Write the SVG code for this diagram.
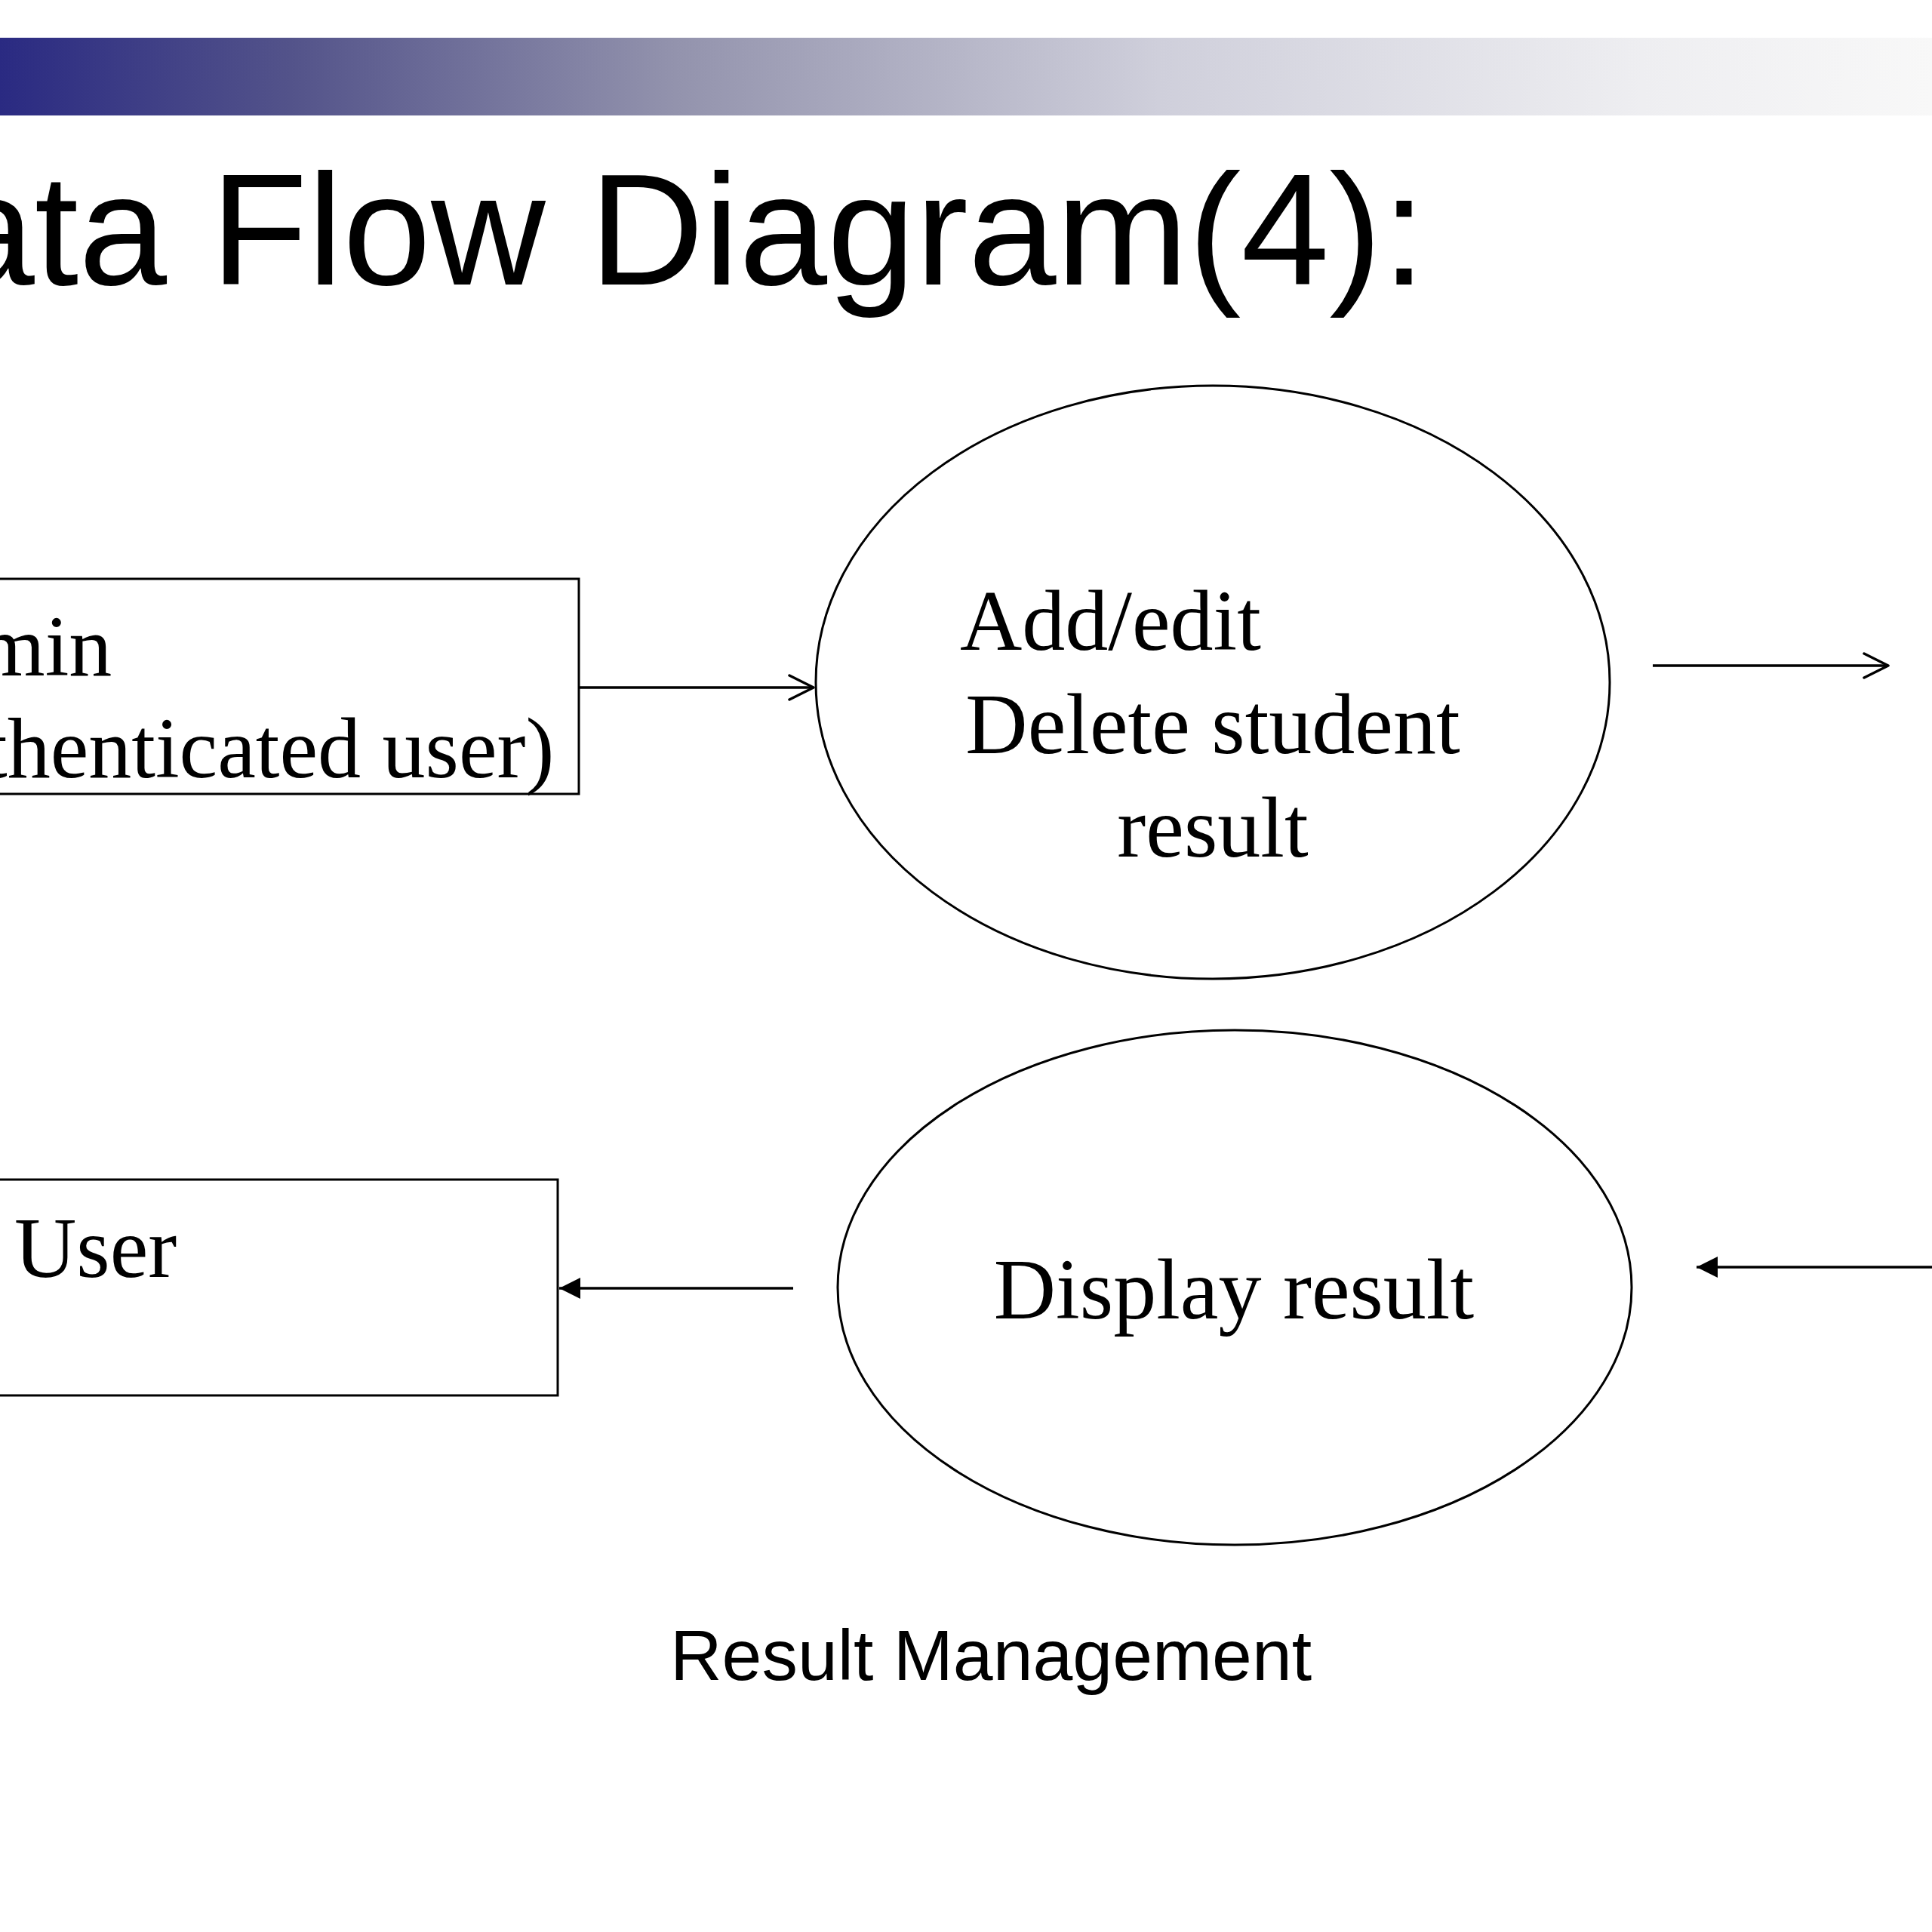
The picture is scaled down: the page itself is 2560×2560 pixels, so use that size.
<svg xmlns="http://www.w3.org/2000/svg" width="2560" height="2560" viewBox="0 0 2560 2560">
  <style>
    .shape { fill: #ffffff; stroke: #000000; stroke-width: 3; }
    .conn { fill: none; stroke: #000000; stroke-width: 3.5; }
    .serif { font-family: "Liberation Serif", "Times New Roman", serif; font-size: 114px; fill: #000000; }
    .sans { font-family: "Liberation Sans", Arial, sans-serif; fill: #000000; }
  </style>
  <defs>
    <linearGradient id="bar" x1="0" y1="0" x2="1" y2="0">
      <stop offset="0" stop-color="#2a2a82"/>
      <stop offset="0.15" stop-color="#53538a"/>
      <stop offset="0.35" stop-color="#9393ad"/>
      <stop offset="0.6" stop-color="#cfcfdb"/>
      <stop offset="0.85" stop-color="#eeeef1"/>
      <stop offset="1" stop-color="#f8f8f8"/>
    </linearGradient>
    <marker id="open" viewBox="0 0 36 36" refX="34" refY="18" markerWidth="36" markerHeight="36" markerUnits="userSpaceOnUse" orient="auto">
      <path d="M2,2 L34,18 L2,34" fill="none" stroke="#000000" stroke-width="3.5" stroke-linecap="round" stroke-linejoin="round"/>
    </marker>
    <marker id="solid" viewBox="0 0 28 28" refX="28" refY="14" markerWidth="28" markerHeight="28" markerUnits="userSpaceOnUse" orient="auto">
      <path d="M0,0 L28,14 L0,28 Z" fill="#000000"/>
    </marker>
  </defs>

  <rect x="0" y="0" width="2560" height="2560" fill="#ffffff"/>
  <rect id="header-bar" x="0" y="50" width="2560" height="103" fill="url(#bar)"/>
  <text id="title" class="sans" x="-71" y="377" font-size="210">ata Flow Diagram(4):</text>

  <g id="admin">
    <rect class="shape" x="-10" y="767" width="777" height="285"/>
    <text class="serif" x="-29" y="895">min</text>
    <text class="serif" x="-22" y="1030">thenticated user)</text>
  </g>

  <g id="add-edit">
    <ellipse class="shape" cx="1607" cy="904" rx="526" ry="393"/>
    <text class="serif" x="1272" y="861">Add/edit</text>
    <text class="serif" x="1607" y="998" text-anchor="middle">Delete student</text>
    <text class="serif" x="1607" y="1135" text-anchor="middle">result</text>
  </g>

  <g id="user">
    <rect class="shape" x="-10" y="1563" width="749" height="286"/>
    <text class="serif" x="19" y="1692">User</text>
  </g>

  <g id="display-result">
    <ellipse class="shape" cx="1636" cy="1706" rx="526" ry="341"/>
    <text class="serif" x="1635" y="1747" text-anchor="middle">Display result</text>
  </g>

  <g id="connectors">
    <line class="conn" x1="767" y1="911" x2="1078" y2="911" marker-end="url(#open)"/>
    <line class="conn" x1="2190" y1="882" x2="2502" y2="882" marker-end="url(#open)"/>
    <line class="conn" x1="2565" y1="1679" x2="2248" y2="1679" marker-end="url(#solid)"/>
    <line class="conn" x1="1051" y1="1707" x2="741" y2="1707" marker-end="url(#solid)"/>
  </g>

  <text id="caption" class="sans" x="888" y="2226" font-size="95">Result Management</text>
</svg>
